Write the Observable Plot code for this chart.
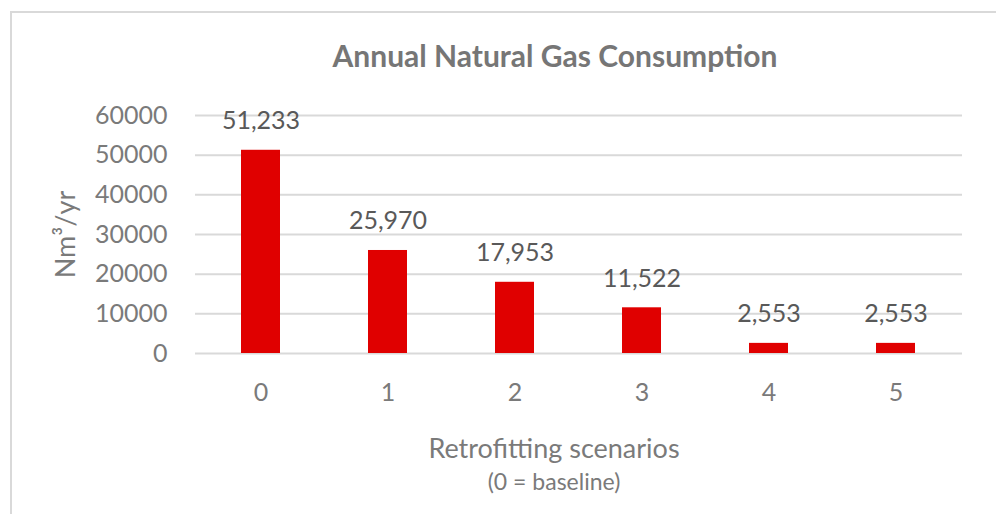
<!DOCTYPE html>
<html><head><meta charset="utf-8">
<script src="https://cdn.jsdelivr.net/npm/d3@7"></script>
<script src="https://cdn.jsdelivr.net/npm/@observablehq/plot@0.6"></script>
<style>
html,body{margin:0;padding:0;background:#fff;}
#wrap{position:relative;width:996px;height:514px;overflow:hidden;}
#border{position:absolute;left:10px;top:11px;width:1100px;height:600px;border:2px solid #d9d9d9;box-sizing:border-box;}
#wrap svg{position:absolute;left:0;top:0;}
</style></head><body><div id="wrap"><div id="border"></div></div>
<script>
const scenarios = ["0", "1", "2", "3", "4", "5"];
const consumption = [51233, 25970, 17953, 11522, 2553, 2553];
const yTicks = [0, 10000, 20000, 30000, 40000, 50000, 60000];
const titleText = "Annual Natural Gas Consumption";
const yLabel = "Nm³/yr";
const xLabel = "Retrofitting scenarios";
const xSubLabel = "(0 = baseline)";

const data = scenarios.map((s, i) => ({scenario: s, value: consumption[i]}));
const font = "Lato, 'Open Sans', sans-serif";

const chart = Plot.plot({
  width: 996, height: 514,
  marginLeft: 195, marginRight: 34, marginTop: 115, marginBottom: 161,
  style: {fontFamily: font, background: "transparent", overflow: "visible"},
  x: {domain: scenarios, paddingInner: 0.69, paddingOuter: 0.345, label: null},
  y: {domain: [0, 60000], label: null},
  marks: [
    Plot.gridY(yTicks, {stroke: "#d9d9d9", strokeOpacity: 1, strokeWidth: 2}),
    Plot.axisY(yTicks, {tickSize: 0, tickPadding: 28, tickFormat: d3.format("d"), fontSize: 25, fill: "#7a7a7a", label: null}),
    Plot.axisX({tickSize: 0, tickPadding: 30, fontSize: 25, fill: "#7a7a7a", label: null}),
    Plot.barY(data, {x: "scenario", y: "value", fill: "#e00000"}),
    Plot.text(data, {x: "scenario", y: "value", text: d => d3.format(",")(d.value), dy: -29, fontSize: 25, fill: "#595959"}),
    Plot.text([titleText], {frameAnchor: "top", dx: -24, dy: -70, fontSize: 30, fontWeight: "bold", fill: "#767676"}),
    Plot.text([yLabel], {frameAnchor: "left", textAnchor: "middle", dx: -129, rotate: -90, fontSize: 27, fill: "#7a7a7a"}),
    Plot.text([xLabel], {frameAnchor: "bottom", dx: -25, dy: 104, fontSize: 27, fill: "#7a7a7a"}),
    Plot.text([xSubLabel], {frameAnchor: "bottom", dx: -25, dy: 136, fontSize: 23, fill: "#7a7a7a"})
  ]
});
document.getElementById("wrap").appendChild(chart);
</script></body></html>
